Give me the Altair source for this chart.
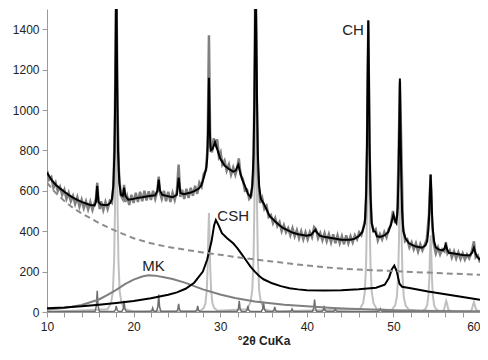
import altair as alt
import pandas as pd

# ---- data ----
bg_x = [10, 11, 12, 13, 14, 15, 16, 17, 18, 20, 22, 24, 26, 28, 30, 32, 34, 36, 38, 40, 42, 44, 46, 48, 50, 52, 54, 56, 58, 60]
bg_y = [640, 590, 550, 515, 488, 465, 440, 420, 400, 365, 340, 322, 308, 295, 283, 271, 260, 250, 240, 230, 222, 215, 210, 206, 203, 198, 195, 191, 188, 184]

mk_x = [10, 12, 14, 15, 16, 17, 18, 19, 20, 21, 21.7, 22.5, 23.5, 24.5, 26, 28, 30, 31.7, 34, 37.4, 40, 43, 45, 50, 55, 60]
mk_y = [12, 20, 35, 48, 62, 85, 110, 138, 160, 176, 182, 180, 172, 163, 144, 112, 87, 69, 52, 36, 28, 20, 16, 9, 5, 3]

csh_x = [10, 12, 14, 16, 18, 20, 22, 24, 25, 26, 27, 28, 28.5, 29, 29.3, 29.5, 29.8, 30.2, 30.8, 31.5, 32, 32.5, 33, 33.5, 34, 34.5, 35, 36, 37, 38, 39, 40, 42, 44, 46, 48, 49, 49.5, 49.8, 50.1, 50.4, 50.7, 51, 52, 54, 56, 58, 60]
csh_y = [18, 22, 28, 36, 45, 55, 68, 85, 97, 115, 145, 200, 260, 350, 430, 455, 430, 390, 365, 340, 315, 285, 255, 225, 200, 178, 162, 142, 128, 118, 112, 108, 106, 108, 113, 120, 135, 170, 210, 230, 200, 140, 125, 118, 102, 88, 74, 60]

ch_x = [10, 17.0, 17.4, 17.6, 17.75, 17.85, 17.92, 18.0, 18.08, 18.15, 18.25, 18.4, 18.6, 19.0, 20,
        27.7, 28.1, 28.3, 28.45, 28.55, 28.62, 28.7, 28.78, 28.85, 28.95, 29.1, 29.3, 29.7,
        33.1, 33.5, 33.7, 33.85, 33.95, 34.02, 34.1, 34.18, 34.25, 34.35, 34.5, 34.7, 35.1, 36,
        46.1, 46.5, 46.7, 46.85, 46.95, 47.02, 47.1, 47.18, 47.25, 47.35, 47.5, 47.7, 48.1,
        49.8, 50.2, 50.4, 50.55, 50.65, 50.72, 50.8, 50.88, 50.95, 51.05, 51.2, 51.4, 51.8,
        53.3, 53.7, 53.9, 54.05, 54.15, 54.22, 54.3, 54.38, 54.45, 54.55, 54.7, 54.9, 55.3,
        55.6, 55.85, 56.0, 56.1, 56.2, 56.35, 56.7, 58.8, 59.05, 59.2, 59.3, 59.4, 59.55, 60]
ch_y = [0, 14, 45, 100, 250, 510, 850, 1130, 850, 510, 250, 100, 45, 14, 3,
        6, 20, 44, 108, 220, 368, 490, 368, 220, 108, 44, 20, 6,
        14, 48, 107, 262, 536, 893, 1190, 893, 536, 262, 107, 48, 14, 3,
        13, 44, 99, 242, 495, 825, 1100, 825, 495, 242, 99, 44, 13,
        10, 33, 74, 180, 369, 615, 820, 615, 369, 180, 74, 33, 10,
        5, 15, 34, 84, 171, 285, 380, 285, 171, 84, 34, 15, 5,
        2, 12, 40, 55, 40, 12, 2, 2, 11, 36, 50, 36, 11, 2]

oth_x = [10, 15.55, 15.7, 15.8, 15.9, 16.05, 17.75, 17.9, 18.0, 18.1, 18.25, 18.65, 18.8, 18.9, 19.0, 19.15,
         21.95, 22.1, 22.2, 22.3, 22.45, 22.65, 22.8, 22.9, 23.0, 23.15, 24.95, 25.1, 25.2, 25.3, 25.45,
         27.15, 27.3, 27.4, 27.5, 27.65, 31.95, 32.1, 32.2, 32.3, 32.45, 32.95, 33.1, 33.2, 33.3, 33.45,
         34.75, 34.9, 35.0, 35.1, 35.25, 36.05, 36.2, 36.3, 36.4, 36.55, 38.05, 38.2, 38.3, 38.4, 38.55,
         40.65, 40.8, 40.9, 41.0, 41.15, 41.75, 41.9, 42.0, 42.1, 42.25, 43.05, 43.2, 43.3, 43.4, 43.55,
         48.25, 48.4, 48.5, 48.6, 48.75, 60]
oth_y = [3, 3, 30, 105, 30, 3, 3, 10, 30, 10, 3, 3, 16, 55, 16, 3,
         3, 6, 20, 6, 3, 3, 26, 86, 26, 3, 3, 12, 40, 12, 3,
         3, 9, 30, 9, 3, 3, 16, 55, 16, 3, 3, 9, 30, 9, 3,
         3, 15, 50, 15, 3, 3, 8, 25, 8, 3, 3, 5, 15, 5, 3,
         3, 18, 61, 18, 3, 3, 9, 30, 9, 3, 3, 5, 15, 5, 3,
         3, 5, 15, 5, 3, 3]

fit_x = [10.0, 10.5, 11.0, 11.5, 12.0, 12.5, 13.0, 13.5, 14.0, 14.5, 15.0, 15.5, 15.65, 15.8, 15.95, 16.2, 16.6, 17.0,
         17.3, 17.5, 17.65, 17.8, 17.9, 18.0, 18.1, 18.2, 18.35, 18.55, 18.75, 18.9, 19.05, 19.4, 20.0, 20.5, 21.0,
         21.5, 22.0, 22.5, 22.75, 22.9, 23.05, 23.3, 23.8, 24.5, 25.0, 25.2, 25.4, 25.8, 26.5, 27.0, 27.5, 27.8,
         28.0, 28.2, 28.4, 28.5, 28.6, 28.7, 28.8, 28.9, 29.1, 29.4, 29.7, 30.0, 30.5, 31.0, 31.5, 31.8, 32.0,
         32.1, 32.25, 32.5, 32.8, 33.2, 33.5, 33.7, 33.85, 33.95, 34.02, 34.1, 34.18, 34.25, 34.35, 34.5, 34.7,
         35.1, 35.7, 36.5, 37.2, 38.4, 39.0, 40.0, 40.5, 40.85, 41.0, 41.15, 41.5, 42.0, 43.0, 44.0, 45.0, 45.5,
         46.0, 46.4, 46.7, 46.85, 46.95, 47.02, 47.1, 47.18, 47.25, 47.35, 47.5, 47.7, 47.9, 48.1, 48.5, 49.0,
         49.4, 49.7, 50.0, 50.2, 50.35, 50.5, 50.6, 50.68, 50.75, 50.82, 50.9, 51.0, 51.15, 51.4, 51.8, 52.5,
         53.3, 53.7, 53.9, 54.05, 54.15, 54.22, 54.3, 54.38, 54.45, 54.55, 54.7, 54.9, 55.2, 55.7, 55.9, 56.05,
         56.2, 56.4, 57.0, 58.0, 58.8, 59.1, 59.3, 59.45, 59.6, 60.0]
fit_y = [690, 655, 630, 612, 595, 580, 566, 555, 545, 537, 530, 528, 545, 625, 545, 532, 530, 530,
         540, 560, 620, 800, 1150, 1700, 1150, 800, 640, 580, 575, 615, 575, 556, 560, 565, 568,
         572, 575, 578, 600, 655, 600, 580, 575, 568, 580, 665, 590, 583, 590, 598, 610, 625,
         650, 680, 715, 760, 900, 1160, 900, 800, 805, 840, 800, 760, 725, 708, 695, 700, 722,
         730, 700, 660, 630, 585, 570, 620, 780, 1050, 1400, 1690, 1400, 1050, 780, 620, 560,
         531, 476, 442, 417, 392, 385, 377, 382, 400, 407, 395, 378, 372, 365, 358, 358, 362,
         375, 395, 440, 580, 830, 1150, 1444, 1150, 830, 580, 440, 400, 398, 375, 372, 380,
         395, 430, 481, 450, 440, 520, 690, 920, 1156, 920, 690, 500, 400, 365, 340, 325,
         318, 330, 350, 410, 500, 600, 680, 600, 500, 410, 350, 320, 310, 305, 315, 333,
         310, 293, 290, 282, 280, 295, 318, 295, 278, 258]

meas_x = [10.0, 10.25, 10.5, 10.75, 11.0, 11.25, 11.5, 11.75, 12.0, 12.25, 12.5, 12.75, 13.0, 13.25, 13.5, 13.75,
          14.0, 14.25, 14.5, 14.75, 15.0, 15.25, 15.5, 15.65, 15.8, 15.95, 16.1, 16.25, 16.5, 16.75, 17.0, 17.25,
          17.5, 17.7, 17.85, 18.0, 18.15, 18.3, 18.5, 18.75, 18.9, 19.05, 19.25, 19.5, 19.75, 20.0, 20.25, 20.5,
          20.75, 21.0, 21.25, 21.5, 21.75, 22.0, 22.25, 22.5, 22.75, 22.9, 23.05, 23.25, 23.5, 23.75, 24.0, 24.25,
          24.5, 24.75, 25.0, 25.2, 25.4, 25.6, 25.85, 26.1, 26.35, 26.6, 26.85, 27.1, 27.35, 27.6, 27.85, 28.1,
          28.35, 28.55, 28.7, 28.85, 29.05, 29.25, 29.45, 29.65, 29.85, 30.05, 30.25, 30.5, 30.75, 31.0, 31.25,
          31.5, 31.75, 32.0, 32.15, 32.35, 32.6, 32.85, 33.1, 33.35, 33.6, 33.85, 34.0, 34.05, 34.15, 34.35, 34.6,
          34.85, 35.1, 35.35, 35.6, 35.85, 36.1, 36.35, 36.6, 36.85, 37.1, 37.35, 37.6, 37.85, 38.1, 38.35, 38.6,
          38.85, 39.1, 39.35, 39.6, 39.85, 40.1, 40.35, 40.6, 40.85, 41.05, 41.3, 41.55, 41.8, 42.05, 42.3, 42.55,
          42.8, 43.05, 43.3, 43.55, 43.8, 44.05, 44.3, 44.55, 44.8, 45.05, 45.3, 45.55, 45.8, 46.05, 46.3, 46.55,
          46.8, 46.95, 47.1, 47.25, 47.45, 47.7, 47.95, 48.2, 48.45, 48.7, 48.95, 49.2, 49.45, 49.7, 49.95, 50.2,
          50.45, 50.65, 50.75, 50.9, 51.1, 51.35, 51.6, 51.85, 52.1, 52.35, 52.6, 52.85, 53.1, 53.35, 53.6, 53.85,
          54.1, 54.3, 54.45, 54.65, 54.9, 55.15, 55.4, 55.65, 55.9, 56.05, 56.25, 56.5, 56.75, 57.0, 57.25, 57.5,
          57.75, 58.0, 58.25, 58.5, 58.75, 59.0, 59.3, 59.5, 59.75, 60.0]
meas_y = [700, 655, 668, 615, 640, 598, 620, 580, 605, 560, 590, 548, 575, 535, 568, 522,
          556, 515, 548, 508, 545, 505, 540, 560, 640, 545, 510, 548, 505, 545, 510, 550,
          540, 640, 1000, 1700, 1000, 700, 580, 560, 630, 545, 575, 530, 580, 540, 590, 545,
          595, 548, 600, 552, 598, 555, 600, 560, 600, 670, 590, 560, 600, 548, 595, 545,
          590, 555, 600, 730, 570, 605, 560, 610, 565, 615, 575, 625, 585, 640, 620, 685,
          700, 820, 1370, 820, 790, 860, 830, 855, 770, 790, 730, 750, 700, 730, 680,
          715, 680, 720, 760, 680, 660, 600, 605, 560, 575, 700, 1300, 1700, 1300, 700, 540,
          565, 510, 525, 470, 480, 440, 465, 425, 445, 400, 430, 395, 415, 380, 415, 375,
          405, 365, 400, 360, 395, 360, 395, 370, 420, 410, 365, 390, 355, 390, 350, 385,
          345, 385, 340, 380, 340, 375, 335, 380, 340, 375, 345, 380, 360, 395, 380, 420,
          470, 800, 1440, 800, 450, 400, 410, 355, 385, 360, 395, 370, 410, 430, 500, 440,
          480, 900, 1140, 850, 430, 350, 360, 320, 345, 310, 340, 300, 335, 305, 330, 360,
          480, 680, 450, 340, 290, 320, 285, 310, 300, 345, 290, 305, 270, 300, 265, 295,
          262, 290, 260, 285, 265, 290, 350, 270, 280, 245]

lbl_text = ["CH", "CSH", "MK"]
lbl_x = [46.6, 31.5, 22.3]
lbl_y = [1395, 476, 228]
lbl_align = ["right", "center", "center"]

x_ticks = list(range(10, 61, 2))
y_ticks = list(range(0, 1401, 200))

# ---- chart ----
FONT = "Liberation Sans"
xs = alt.Scale(domain=[10, 60], nice=False, zero=False)
ys = alt.Scale(domain=[0, 1500], nice=False)

X_AXIS = alt.Axis(values=x_ticks,
                  labelExpr="datum.value % 10 === 0 ? datum.label : ''",
                  labelOverlap=False, labelFlush=False,
                  labelAlign={"condition": {"test": "datum.value >= 60", "value": "right"}, "value": "center"},
                  grid=False, tickSize=5, labelFontSize=12, titleFontSize=12,
                  titleFontWeight="bold", titlePadding=3, labelPadding=4)
Y_AXIS = alt.Axis(values=y_ticks, grid=False, tickSize=5, labelOverlap=False,
                  format="d", labelFontSize=12, labelPadding=3)


def xe():
    return alt.X("x:Q", scale=xs, title="°2θ CuKa", axis=X_AXIS)


def ye():
    return alt.Y("y:Q", scale=ys, title=None, axis=Y_AXIS)


def line(xv, yv, color, width, dash=None):
    df = pd.DataFrame({"x": xv, "y": yv})
    kw = dict(color=color, strokeWidth=width, clip=True, interpolate="linear")
    if dash:
        kw["strokeDash"] = dash
    return alt.Chart(df).mark_line(**kw).encode(x=xe(), y=ye())


layers = [
    line(ch_x, ch_y, "#c0c0c0", 2),
    line(oth_x, oth_y, "#6e6e6e", 1.5),
    line(mk_x, mk_y, "#7f7f7f", 2),
    line(csh_x, csh_y, "#000000", 2),
    line(bg_x, bg_y, "#8c8c8c", 2, [6, 4]),
    line(meas_x, meas_y, "#808080", 2.5),
    line(fit_x, fit_y, "#000000", 2),
]

lbl_df = pd.DataFrame({"t": lbl_text, "x": lbl_x, "y": lbl_y, "a": lbl_align})
for al in ["right", "center"]:
    layers.append(
        alt.Chart(lbl_df[lbl_df["a"] == al]).mark_text(
            align=al, baseline="middle", fontSize=15, font=FONT, color="#222222"
        ).encode(x=xe(), y=ye(), text="t:N")
    )

chart = alt.layer(*layers).properties(
    width=433, height=303,
    autosize=alt.AutoSizeParams(type="none"),
    padding={"left": 39, "top": 1, "right": 0, "bottom": 40},
).configure_view(stroke=None).configure_axis(
    domainColor="#999999", tickColor="#999999", labelColor="#222222",
    titleColor="#222222", labelFont=FONT, titleFont=FONT, labelOverlap=False,
)

chart.save("out.html", embed_options={"renderer": "svg", "actions": False})
